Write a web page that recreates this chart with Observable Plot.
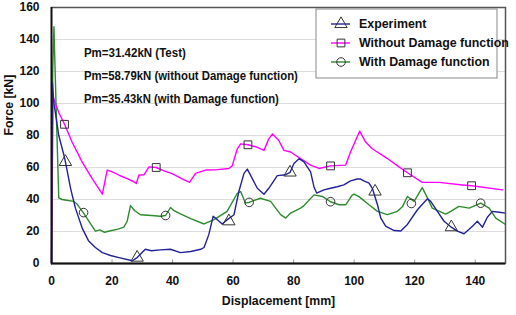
<!DOCTYPE html>
<html>
<head>
<meta charset="utf-8">
<script src="https://cdn.jsdelivr.net/npm/d3@7"></script>
<script src="https://cdn.jsdelivr.net/npm/@observablehq/plot@0.6"></script>
<style>
  html, body { margin: 0; padding: 0; background: #fff; }
  #chart { width: 516px; height: 315px; }
</style>
</head>
<body>
<div id="chart"></div>
<script>
// ---- Data ----
const seriesNames = ["Experiment", "Without Damage function", "With Damage function"];
const seriesColors = ["#22229a", "#ff00ff", "#2e8b2e"];

const expX = [0, 0.3, 0.8, 1.3, 2.4, 4.1, 4.6, 6.3, 7.9, 10.1, 12.3, 14.5, 16.8, 19.5, 22.3, 26.7, 28.3, 30, 31, 33, 36, 39.3, 42.6, 46, 49.3, 50.4, 52, 53.4, 54.8, 56.4, 58.1, 60.3, 61.9, 63.6, 64.7, 66.3, 68, 70.2, 71.8, 74.6, 77.4, 78.8, 80.1, 81.8, 83.4, 85.6, 86.7, 87.6, 90, 92.2, 94.4, 96.6, 98.8, 101, 102.1, 103.2, 104.9, 106, 107.7, 108.8, 110.4, 113.2, 115.4, 117.6, 120.9, 123.6, 124.2, 125.3, 127.5, 129.7, 132.1, 134.1, 136.3, 139.1, 140.7, 142.4, 144, 145.7, 147.9, 150];
const expY = [0, 113, 100, 94, 80, 67.7, 63.5, 47, 34.6, 22.3, 14, 10, 6.8, 5, 3.7, 1.7, 3.7, 7, 8.9, 8, 8.5, 8.9, 6.8, 7.5, 8.9, 10, 18.2, 29.5, 27.4, 24.7, 27.4, 30.5, 45, 56.3, 59, 53.2, 47, 43.3, 47, 54.9, 55.5, 56.9, 62.5, 65.5, 63.5, 57.3, 48, 44, 46, 47, 48, 49.1, 51.6, 52.8, 52.8, 51.6, 50.2, 47, 36.7, 28.4, 23.3, 20.6, 20.3, 24.4, 33.6, 39.2, 40.4, 38.8, 32.6, 26.4, 22.7, 20.2, 18.6, 23.3, 26.4, 22.7, 28.9, 32.6, 32, 31.5];

const woX = [0, 0.5, 1.3, 2.4, 4.3, 6.8, 10.1, 13.4, 16.8, 18.4, 20.1, 22.5, 25, 27.2, 28, 28.9, 30.6, 32.2, 34.6, 37, 40, 43, 45.6, 47.6, 50.9, 54, 58.6, 59.7, 61.4, 62.5, 64.9, 67.4, 70.2, 71.8, 73, 75.1, 76.8, 79, 82.3, 85.6, 88.4, 92.2, 97.2, 98.8, 101.8, 103.8, 106, 111, 114.8, 117.6, 122.5, 128, 135.8, 138.8, 149];
const woY = [0, 104, 100, 94.4, 87, 75.9, 63.5, 53.2, 43.3, 58.4, 57.3, 55, 53, 51.1, 50, 55.3, 55.5, 60.4, 60, 58, 56, 53, 50.7, 56.3, 58.4, 58.5, 59.4, 61, 71.7, 74.8, 74.2, 73, 70.7, 77.9, 81, 76.9, 70.7, 69.7, 65.6, 61.5, 59.4, 61, 61.5, 69.7, 82.7, 75.9, 71.7, 65.6, 60.4, 56.7, 50.7, 50.7, 49.1, 48.6, 46];

const wdX = [0.1, 0.4, 0.8, 1.5, 2.4, 3.5, 5, 7.4, 8.5, 10.6, 12.5, 14.5, 16, 17.5, 19.5, 22, 23.9, 25, 26.1, 27.5, 29.4, 33, 36, 37.7, 39.3, 40.5, 42.6, 46, 50.4, 53.7, 58, 61.4, 62.5, 64.1, 65.3, 69, 72.4, 75.7, 77.4, 79, 82.3, 83.3, 86.7, 89.5, 92.2, 95, 97.2, 99.4, 100, 101.6, 104.9, 107.7, 111, 114.3, 116, 117.6, 119.8, 122.5, 124.2, 125.8, 130.2, 131.9, 134.6, 138, 141.8, 144.6, 146.8, 150];
const wdY = [0, 120, 148, 100, 41, 40, 39.5, 38.8, 37, 31.5, 26, 20.2, 21, 19.5, 20.5, 21.5, 22.7, 26.4, 36.2, 33, 30.5, 30, 29.5, 30, 35, 33, 31, 28, 24.7, 27.4, 32.6, 43.9, 45, 37.7, 38.2, 40.8, 38.8, 30.5, 28.4, 31.5, 34.6, 36, 42.9, 41.9, 38.6, 36.7, 36.7, 42.9, 43.3, 41.8, 36.7, 32.6, 30.5, 32.6, 35.7, 41.9, 38.8, 47.4, 41, 34.6, 30.9, 32.6, 35.7, 34.6, 37.7, 34.6, 28.4, 24.4];

// markers
const triX = [4.6, 28.3, 58.6, 78.8, 106.9, 132.1];
const triY = [63.5, 3.7, 26.4, 56.9, 45, 22.7];
const sqX = [4.3, 34.6, 64.9, 92.2, 117.6, 138.8];
const sqY = [87, 60, 74.2, 61, 56.7, 48.6];
const cirX = [10.6, 37.7, 65.3, 92.2, 118.9, 141.8];
const cirY = [31.8, 30, 38.2, 38.6, 37.5, 37.7];

// annotations
const noteTexts = ["Pm=31.42kN (Test)", "Pm=58.79kN (without Damage function)", "Pm=35.43kN (with Damage function)"];
const noteX = [10.7, 10.7, 10.7];
const noteY = [131.7, 117, 102.7];
const noteWidths = [102, 214, 195];

const xTicks = [0, 20, 40, 60, 80, 100, 120, 140];
const yTicks = [0, 20, 40, 60, 80, 100, 120, 140, 160];
const gridTicks = [20, 40, 60, 80, 100, 120, 140];

// ---- Build tables ----
const zip = (xs, ys) => xs.map((x, i) => ({x, y: ys[i]}));
const expData = zip(expX, expY);
const woData = zip(woX, woY);
const wdData = zip(wdX, wdY);
const triData = zip(triX, triY);
const sqData = zip(sqX, sqY);
const cirData = zip(cirX, cirY);
const notes = noteTexts.map((t, i) => ({t, x: noteX[i], y: noteY[i]}));

const markerStroke = "#333";
const plot = Plot.plot({
  width: 516,
  height: 315,
  marginLeft: 51,
  marginRight: 11,
  marginTop: 7,
  marginBottom: 52,
  style: {fontFamily: "'Liberation Sans', Arial, sans-serif", fontSize: "12px", fontWeight: "bold", background: "#fff", overflow: "visible"},
  x: {domain: [0, 150]},
  y: {domain: [0, 160]},
  marks: [
    Plot.ruleY(gridTicks, {stroke: "#dcdcdc", strokeWidth: 1}),
    Plot.ruleX(xTicks.slice(1), {y1: 0, y2: 2.2, stroke: "#999", strokeWidth: 1}),
    Plot.line(wdData, {x: "x", y: "y", stroke: seriesColors[2], strokeWidth: 1.4}),
    Plot.line(woData, {x: "x", y: "y", stroke: seriesColors[1], strokeWidth: 1.4}),
    Plot.line(expData, {x: "x", y: "y", stroke: seriesColors[0], strokeWidth: 1.4}),
    Plot.dot(triData, {x: "x", y: "y", symbol: "triangle", r: 4.6, stroke: markerStroke, fill: "none", strokeWidth: 1}),
    Plot.dot(sqData, {x: "x", y: "y", symbol: "square", r: 4.4, stroke: markerStroke, fill: "none", strokeWidth: 1}),
    Plot.dot(cirData, {x: "x", y: "y", symbol: "circle", r: 4.3, stroke: markerStroke, fill: "none", strokeWidth: 1}),
    Plot.text(notes, {x: "x", y: "y", text: "t", textAnchor: "start", fill: "#111", fontSize: 12, fontWeight: "bold", className: "note"}),
    Plot.frame({stroke: "#555", strokeWidth: 1.5}),
    Plot.ruleX([0], {stroke: "#111", strokeWidth: 1.8}),
    Plot.ruleY([0], {stroke: "#111", strokeWidth: 1.8}),
    Plot.axisX({ticks: xTicks, tickSize: 0, tickPadding: 13, label: null, fill: "#111"}),
    Plot.axisY({ticks: yTicks, tickSize: 0, tickPadding: 12, label: null, fill: "#111"}),
    Plot.text(["Displacement [mm]"], {frameAnchor: "bottom", dy: 41, fontSize: 12.3, fontWeight: "bold", fill: "#111"}),
    Plot.text(["Force [kN]"], {frameAnchor: "left", dx: -42, rotate: -90, fontSize: 12.3, fontWeight: "bold", fill: "#111"})
  ]
});
document.getElementById("chart").appendChild(plot);

const svg = d3.select(plot);
// fit annotation widths to the reference
svg.selectAll(".note text").each(function() {
  const idx = noteTexts.indexOf(this.textContent);
  if (idx >= 0) d3.select(this).attr("textLength", noteWidths[idx]).attr("lengthAdjust", "spacingAndGlyphs");
});

// ---- Legend (inside plot area, top right) ----
const lg = svg.append("g").attr("transform", "translate(316,9)");
lg.append("rect").attr("width", 181).attr("height", 69).attr("fill", "#fff").attr("stroke", "#888").attr("stroke-width", 1);
const symTypes = [d3.symbolTriangle, d3.symbolSquare, d3.symbolCircle];
const symSizes = [66, 60, 58];
seriesNames.forEach((name, i) => {
  const yy = 15 + i * 19;
  lg.append("line").attr("x1", 15).attr("x2", 34).attr("y1", yy).attr("y2", yy)
    .attr("stroke", seriesColors[i]).attr("stroke-width", 1.4);
  lg.append("path").attr("d", d3.symbol().type(symTypes[i]).size(symSizes[i])())
    .attr("transform", `translate(25,${yy})`).attr("fill", "none").attr("stroke", markerStroke).attr("stroke-width", 1);
  lg.append("text").attr("x", 43).attr("y", yy).attr("dy", "0.35em")
    .attr("text-anchor", "start")
    .attr("fill", "#111").style("font-size", "12.4px").style("font-weight", "bold").text(name);
});
</script>
</body>
</html>
